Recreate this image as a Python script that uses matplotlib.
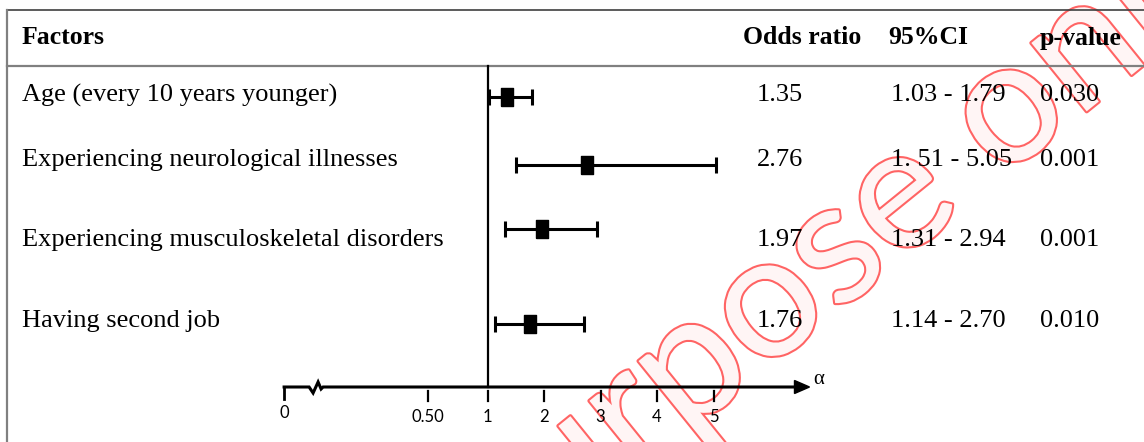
import numpy as np
import matplotlib
matplotlib.use("Agg")
import matplotlib.pyplot as plt
import matplotlib.patheffects as pe

# data
factors = ["Age (every 10 years younger)",
           "Experiencing neurological illnesses",
           "Experiencing musculoskeletal disorders",
           "Having second job"]
odds = [1.35, 2.76, 1.97, 1.76]
ci_low = [1.03, 1.51, 1.31, 1.14]
ci_high = [1.79, 5.05, 2.94, 2.70]
ci_text = ["1.03 - 1.79", "1. 51 - 5.05", "1.31 - 2.94", "1.14 - 2.70"]
p_values = ["0.030", "0.001", "0.001", "0.010"]
headers = ["Factors", "Odds ratio", "95%CI", "p-value"]
tick_labels = ["0", "0.50", "1", "2", "3", "4", "5"]
tick_pos = [-2.6, -0.06, 1, 2, 3, 4, 5]   # hand drawn broken axis

# layout (pixels)
W, H = 1144, 442
text_rows = [95, 160, 240, 321]
bar_rows = [97, 165, 229, 324]
axis_y = 387
px_one, px_unit = 487.5, 56.5
serif = "Liberation Serif"

fig = plt.figure(figsize=(W / 100, H / 100), dpi=100)

# table layer in pixel coordinates
bg = fig.add_axes([0, 0, 1, 1])
bg.set_xlim(0, W)
bg.set_ylim(H, 0)
bg.axis("off")

# watermark
bg.text(838, 249, "purpose only", rotation=39, rotation_mode="anchor",
        ha="center", va="center", fontsize=125, family="Lato",
        color="#fff5f5", zorder=0, clip_on=True,
        path_effects=[pe.withStroke(linewidth=3, foreground="#ff6464")])

bg.plot([7, W], [10, 10], color="#404040", lw=1.2, zorder=2)
bg.plot([7, 7], [10, H], color="#808080", lw=1.6, zorder=2)
bg.plot([7, W], [66, 66], color="#808080", lw=1.6, zorder=2)

hx = [22, 743, 888, 1040]
for x, h in zip(hx, headers):
    bg.text(x, 38, h, ha="left", va="center", fontsize=18.5, family=serif,
            weight="bold", zorder=3)

fs = 19
for i in range(len(factors)):
    y = text_rows[i]
    bg.text(22, y, factors[i], ha="left", va="center", fontsize=fs,
            family=serif, zorder=3)
    bg.text(757, y, f"{odds[i]:.2f}", ha="left", va="center", fontsize=fs,
            family=serif, zorder=3)
    bg.text(891, y, ci_text[i], ha="left", va="center", fontsize=fs,
            family=serif, zorder=3)
    bg.text(1040, y, p_values[i], ha="left", va="center", fontsize=fs,
            family=serif, zorder=3)

# forest layer: x in odds ratio units
x0, x1 = 270, 830
ax = fig.add_axes([x0 / W, 0, (x1 - x0) / W, 1])
ax.patch.set_alpha(0)
ax.set_xlim(1 - (px_one - x0) / px_unit, 1 + (x1 - px_one) / px_unit)
ax.set_ylim(H, 0)
ax.axis("off")

def px(v):
    # pixel offset -> data units
    return v / px_unit

odds_a = np.array(odds)
err = [odds_a - np.array(ci_low), np.array(ci_high) - odds_a]
ax.errorbar(odds, bar_rows, xerr=err, fmt="none", ecolor="black",
            elinewidth=2.2, capsize=6, capthick=2.2, zorder=4)
rect = [(-0.33, -0.5), (0.33, -0.5), (0.33, 0.5), (-0.33, 0.5), (-0.33, -0.5)]
ax.plot(odds, bar_rows, linestyle="none", marker=rect, markersize=13,
        color="black", zorder=5)

# reference line at 1
ax.plot([1, 1], [66, axis_y], color="black", lw=1.6, zorder=4)

# axis with break and arrow
start = tick_pos[0]
zx = [start, start + px(25), start + px(29), start + px(34), start + px(37),
      start + px(39), 1 + px(310)]
zy = [axis_y, axis_y, axis_y + 6, axis_y - 5, axis_y + 2, axis_y, axis_y]
ax.plot(zx, zy, color="black", lw=2.2, solid_joinstyle="miter", zorder=4)
ax.fill([1 + px(307), 1 + px(322), 1 + px(307)],
        [axis_y - 6.5, axis_y, axis_y + 6.5], color="black", zorder=4)
ax.text(1 + px(326), axis_y - 7, "α", ha="left", va="center", fontsize=15,
        family=serif, zorder=4)

ax.plot([start, start], [axis_y, axis_y + 12], color="black", lw=2, zorder=4)
for t in tick_pos[1:]:
    ax.plot([t, t], [axis_y + 4, axis_y + 14], color="black", lw=1.6, zorder=4)
for t, lab in zip(tick_pos, tick_labels):
    yy = axis_y + 26 if lab == "0" else axis_y + 30
    ax.text(t, yy, lab, ha="center", va="center", fontsize=12, family="Lato",
            zorder=4)

fig.savefig("out.png", dpi=100)
